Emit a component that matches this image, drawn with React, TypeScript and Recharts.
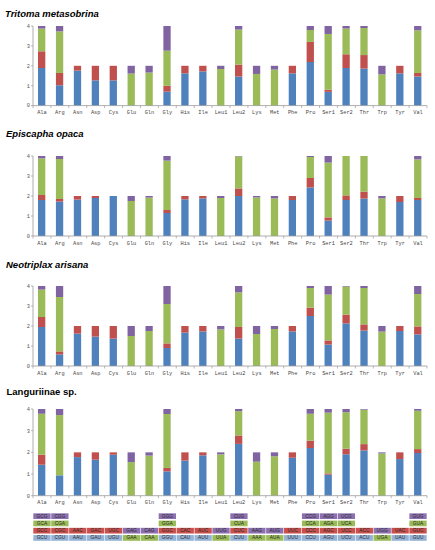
import React from 'react';
import { BarChart, Bar, XAxis, YAxis } from 'recharts';

const CATEGORIES = ['Ala','Arg','Asn','Asp','Cys','Glu','Gln','Gly','His','Ile','Leu1','Leu2','Lys','Met','Phe','Pro','Ser1','Ser2','Thr','Trp','Tyr','Val'];
const Y_TICKS = [0, 1, 2, 3, 4];

// Tritoma metasobrina
const TRITOMA_C1 = [1.89,1.02,1.76,1.27,1.27,0,0,0.70,1.62,1.72,0,1.46,0,0,1.62,2.19,0.69,1.89,1.86,0,1.62,1.46];
const TRITOMA_C2 = [0.84,0.62,0.24,0.73,0.73,0,0,0.30,0.38,0.28,0,0.60,0,0,0.38,1.01,0.11,0.69,0.68,0,0.38,0.18];
const TRITOMA_C3 = [1.14,2.09,0,0,0,1.61,1.66,1.76,0,0,1.84,1.76,1.59,1.81,0,0.60,2.80,1.29,1.36,1.57,0,2.14];
const TRITOMA_C4 = [0.13,0.27,0,0,0,0.39,0.34,1.24,0,0,0.16,0.18,0.41,0.19,0,0.20,0.40,0.13,0.10,0.43,0,0.22];

// Episcapha opaca
const EPISCAPHA_C1 = [1.80,1.72,1.82,1.90,2.00,0,0,1.15,1.83,1.88,0,2.00,0,0,1.80,2.43,0.77,1.80,1.87,0,1.70,1.80];
const EPISCAPHA_C2 = [0.25,0.13,0.18,0.10,0,0,0,0.15,0.17,0.12,0,0.38,0,0,0.20,0.47,0.16,0.23,0.35,0,0.30,0.10];
const EPISCAPHA_C3 = [1.83,2.00,0,0,0,1.75,1.92,2.47,0,0,1.90,1.60,1.93,1.88,0,1.05,2.74,1.97,1.78,1.88,0,1.93];
const EPISCAPHA_C4 = [0.12,0.15,0,0,0,0.25,0.08,0.23,0,0,0.10,0.02,0.07,0.12,0,0.05,0.33,0,0,0.12,0,0.17];

// Neotriplax arisana
const NEOTRIPLAX_C1 = [1.95,0.58,1.62,1.47,1.37,0,0,0.90,1.67,1.73,0,1.37,0,0,1.73,2.50,1.07,2.13,1.77,0,1.75,1.58];
const NEOTRIPLAX_C2 = [0.50,0.15,0.38,0.53,0.63,0,0,0.23,0.33,0.27,0,0.58,0,0,0.27,0.42,0.21,0.44,0.31,0,0.25,0.40];
const NEOTRIPLAX_C3 = [1.37,2.72,0,0,0,1.50,1.75,1.97,0,0,1.83,1.73,1.60,1.85,0,0.98,2.29,1.40,1.82,1.72,0,1.62];
const NEOTRIPLAX_C4 = [0.18,0.55,0,0,0,0.50,0.25,0.90,0,0,0.17,0.32,0.40,0.15,0,0.10,0.43,0.03,0.10,0.28,0,0.40];

// Languriinae sp.
const LANGURIINAE_C1 = [1.43,0.94,1.78,1.66,1.89,0,0,1.12,1.62,1.86,0,2.39,0,0,1.75,2.20,0.97,1.91,2.09,0,1.69,1.97];
const LANGURIINAE_C2 = [0.46,0,0.22,0.34,0.11,0,0,0.16,0.38,0.14,0,0.39,0,0,0.25,0.34,0.06,0.26,0.29,0,0.31,0.18];
const LANGURIINAE_C3 = [1.89,2.78,0,0,0,1.55,1.85,2.49,0,0,1.91,1.12,1.57,1.82,0,1.24,2.80,1.68,1.59,1.95,0,1.77];
const LANGURIINAE_C4 = [0.22,0.28,0,0,0,0.45,0.15,0.23,0,0,0.09,0.10,0.43,0.18,0,0.22,0.17,0.15,0.03,0.05,0,0.08];

// Codon legend (bottom row first)
const CODON_LABELS = [
  ['GCU','GCC','GCA','GCG'], ['CGU','CGC','CGA','CGG'], ['AAU','AAC'], ['GAU','GAC'], ['UGU','UGC'],
  ['GAA','GAG'], ['CAA','CAG'], ['GGU','GGC','GGA','GGG'], ['CAU','CAC'], ['AUU','AUC'],
  ['UUA','UUG'], ['CUU','CUC','CUA','CUG'], ['AAA','AAG'], ['AUA','AUG'], ['UUU','UUC'],
  ['CCU','CCC','CCA','CCG'], ['AGU','AGC','AGA','AGG'], ['UCU','UCC','UCA','UCG'], ['ACU','ACC'],
  ['UGA','UGG'], ['UAU','UAC'], ['GUU','GUC','GUA','GUG'],
];
const CODON_COLORS = ['brgp','brgp','br','br','br','gp','gp','brgp','br','br','gp','brgp','gp','gp','br','brgp','brgp','brgp','br','gp','br','brgp'];

const BAR_FILL = { c1: '#4F81BD', c2: '#C0504D', c3: '#9BBB59', c4: '#8064A2' };
const LEGEND_FILL: Record<string, string> = { b: '#95B3D7', r: '#C9504D', g: '#9BBB59', p: '#8C70B0' };

const build = (a: number[], b: number[], c: number[], d: number[]) =>
  CATEGORIES.map((aa, i) => ({ aa, c1: a[i], c2: b[i], c3: c[i], c4: d[i] }));

const SPECIES = [
  { title: 'Tritoma metasobrina', italic: true, data: build(TRITOMA_C1, TRITOMA_C2, TRITOMA_C3, TRITOMA_C4) },
  { title: 'Episcapha opaca', italic: true, data: build(EPISCAPHA_C1, EPISCAPHA_C2, EPISCAPHA_C3, EPISCAPHA_C4) },
  { title: 'Neotriplax arisana', italic: true, data: build(NEOTRIPLAX_C1, NEOTRIPLAX_C2, NEOTRIPLAX_C3, NEOTRIPLAX_C4) },
  { title: 'Languriinae sp.', italic: false, data: build(LANGURIINAE_C1, LANGURIINAE_C2, LANGURIINAE_C3, LANGURIINAE_C4) },
];

// layout
const W = 435;
const Y_AXIS_W = 33;
const RIGHT = 8;
const BAND = (W - Y_AXIS_W - RIGHT) / CATEGORIES.length;
const LAYOUT = [
  { top: 21.7, height: 97.6, xh: 14, titleX: 5, titleY: 16.7 },
  { top: 152, height: 98, xh: 14, titleX: 6, titleY: 137.3 },
  { top: 281.7, height: 98, xh: 14, titleX: 6, titleY: 267.7 },
  { top: 405, height: 140.7, xh: 50, titleX: 6.5, titleY: 395 },
];
const AXIS_COLOR = '#9A9A9A';

function AxisTick(props: any) {
  const { x, y, payload, index, showLegend } = props;
  const last = index === CATEGORIES.length - 1;
  const codons: string[] = CODON_LABELS[index] || [];
  const cols = CODON_COLORS[index] || '';
  return (
    <g>
      <line x1={x - BAND / 2} x2={x - BAND / 2} y1={y} y2={y + 2.5} stroke={AXIS_COLOR} strokeWidth={0.7} />
      {last && <line x1={x + BAND / 2} x2={x + BAND / 2} y1={y} y2={y + 2.5} stroke={AXIS_COLOR} strokeWidth={0.7} />}
      <text x={x} y={y + 8.6} textAnchor="middle" fontSize={5.3} fontFamily="'Liberation Mono', monospace" fill="#444">
        {payload.value}
      </text>
      {showLegend &&
        codons.map((c, k) => {
          const top = y + 39.4 - k * 7.25;
          return (
            <g key={c}>
              <rect x={x - 8.65} y={top} width={17.3} height={5.7} fill={LEGEND_FILL[cols[k]]} />
              <text x={x} y={top + 4.4} textAnchor="middle" fontSize={4.8} fontFamily="'Liberation Sans', Arial, sans-serif" fill="#2a2a2a">
                {c}
              </text>
            </g>
          );
        })}
    </g>
  );
}

export default function App() {
  return (
    <div style={{ position: 'absolute', left: 0, top: 0, width: W, height: 550, background: '#fff', overflow: 'hidden' }}>
      {SPECIES.map((sp, i) => {
        const L = LAYOUT[i];
        const legend = i === SPECIES.length - 1;
        return (
          <div key={sp.title} style={{ position: 'absolute', left: 0, top: L.top }}>
            <BarChart width={W} height={L.height} data={sp.data} margin={{ top: 4, right: RIGHT, left: 0, bottom: 0 }} barSize={7.3}>
              <XAxis
                dataKey="aa"
                interval={0}
                height={L.xh}
                tickSize={0}
                tickMargin={0}
                tickLine={false}
                axisLine={{ stroke: AXIS_COLOR, strokeWidth: 0.8 }}
                tick={(p: any) => <AxisTick {...p} showLegend={legend} />}
              />
              <YAxis
                type="number"
                domain={[0, 4]}
                ticks={Y_TICKS}
                interval={0}
                width={Y_AXIS_W}
                tickSize={2}
                tickMargin={1}
                axisLine={{ stroke: AXIS_COLOR, strokeWidth: 0.8 }}
                tickLine={{ stroke: AXIS_COLOR, strokeWidth: 0.7 }}
                tick={{ fontSize: 5.3, fill: '#555', fontFamily: "'Liberation Mono', monospace" }}
              />
              <Bar dataKey="c1" stackId="s" fill={BAR_FILL.c1} isAnimationActive={false} />
              <Bar dataKey="c2" stackId="s" fill={BAR_FILL.c2} isAnimationActive={false} />
              <Bar dataKey="c3" stackId="s" fill={BAR_FILL.c3} isAnimationActive={false} />
              <Bar dataKey="c4" stackId="s" fill={BAR_FILL.c4} isAnimationActive={false} />
            </BarChart>
          </div>
        );
      })}
      <svg width={W} height={550} style={{ position: 'absolute', left: 0, top: 0, pointerEvents: 'none' }}>
        {SPECIES.map((sp, i) => (
          <text
            key={sp.title}
            x={LAYOUT[i].titleX}
            y={LAYOUT[i].titleY}
            fontSize={9.5}
            fontWeight="bold"
            fontStyle={sp.italic ? 'italic' : 'normal'}
            fontFamily="'Liberation Sans', Arial, sans-serif"
            fill="#000"
          >
            {sp.title}
          </text>
        ))}
      </svg>
    </div>
  );
}
